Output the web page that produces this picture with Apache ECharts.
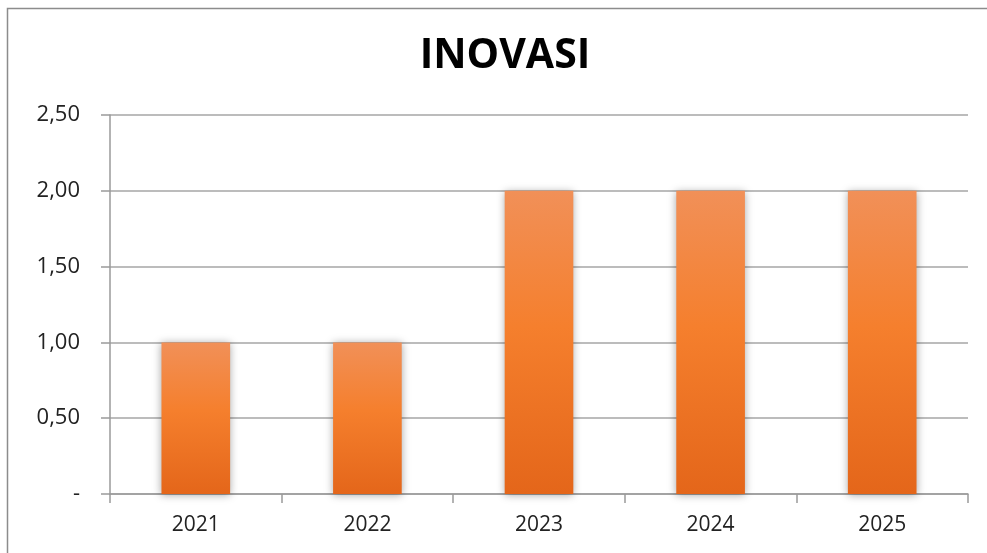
<!DOCTYPE html>
<html>
<head>
<meta charset="utf-8">
<script src="https://cdn.jsdelivr.net/npm/echarts@6/dist/echarts.min.js"></script>
<style>
  html, body { margin: 0; padding: 0; background: #fff; }
  #chart { width: 987px; height: 553px; }
</style>
</head>
<body>
<div id="chart"></div>
<script>
// 数据
var years = ['2021', '2022', '2023', '2024', '2025'];
var inovasi = [1, 1, 2, 2, 2];
var yTicks = { min: 0, max: 2.5, interval: 0.5 };

var myChart = echarts.init(document.getElementById('chart'));
var option = {
  backgroundColor: '#fff',
  animation: false,
  title: {
    text: 'INOVASI',
    left: 500,
    top: 31,
    textAlign: 'center',
    textStyle: {
      fontFamily: 'Open Sans',
      fontWeight: 'bold',
      fontSize: 41,
      color: '#000'
    }
  },
  graphic: [{ // 外边框
    type: 'rect',
    shape: { x: 7.5, y: 8.5, width: 1000, height: 600 },
    style: { fill: 'none', stroke: '#8c8c8c', lineWidth: 1.5 },
    silent: true
  }],
  grid: {
    left: 110,
    right: 19,
    top: 115,
    bottom: 59
  },
  xAxis: {
    type: 'category',
    data: years,
    axisLine: { lineStyle: { color: '#9a9a9a', width: 1.5 } },
    axisTick: { show: true, length: 9, lineStyle: { color: '#9a9a9a', width: 1.5 } },
    axisLabel: {
      fontFamily: 'Open Sans',
      fontSize: 21,
      color: '#222',
      margin: 21
    }
  },
  yAxis: {
    type: 'value',
    min: yTicks.min,
    max: yTicks.max,
    interval: yTicks.interval,
    axisLine: { show: true, lineStyle: { color: '#9a9a9a', width: 1.5 } },
    axisTick: { show: true, length: 9, lineStyle: { color: '#9a9a9a', width: 1.5 } },
    splitLine: { show: true, lineStyle: { color: '#a6a6a6', width: 1.5 } },
    axisLabel: {
      fontFamily: 'Open Sans',
      fontSize: 22,
      color: '#222',
      margin: 30,
      formatter: function (v) {
        if (v === 0) return '-';
        return v.toFixed(2).replace('.', ',');
      }
    }
  },
  series: [{
    name: 'INOVASI',
    type: 'bar',
    data: inovasi,
    barWidth: '40%',
    itemStyle: {
      color: new echarts.graphic.LinearGradient(0, 0, 0, 1, [
        { offset: 0, color: '#f19058' },
        { offset: 0.45, color: '#f57f2d' },
        { offset: 1, color: '#e4661a' }
      ]),
      shadowBlur: 8,
      shadowColor: 'rgba(0,0,0,0.35)',
      shadowOffsetX: 0,
      shadowOffsetY: 1
    }
  }]
};
myChart.setOption(option);
</script>
</body>
</html>
